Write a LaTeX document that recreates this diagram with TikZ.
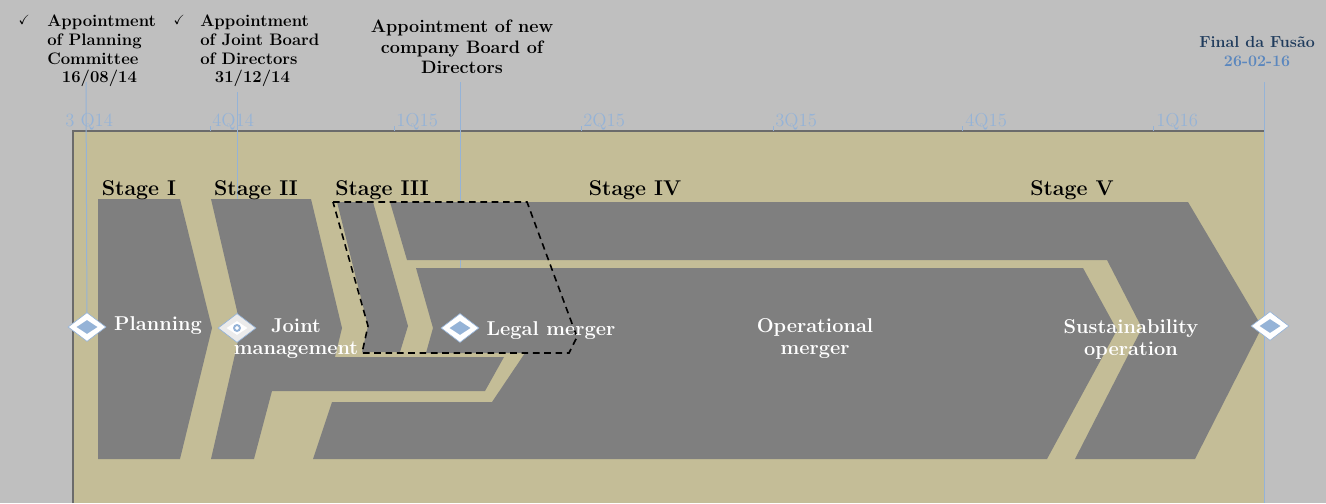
\documentclass[tikz,border=0pt]{standalone}
\usepackage{amssymb}
\usepackage{tikz}
\usetikzlibrary{shapes.geometric,calc,positioning}
\definecolor{canvas}{HTML}{BFBFBF}
\definecolor{panel}{HTML}{C4BD97}
\definecolor{slab}{HTML}{7F7F7F}
\definecolor{axisblue}{HTML}{95B3D7}
\definecolor{navy}{HTML}{1F3B5C}
\definecolor{dateblue}{HTML}{5B87BE}
\definecolor{panelrule}{HTML}{6B6B6B}
\tikzset{
        stagelbl/.style = {inner sep=0pt, anchor=base,
            font=\fontsize{16}{18}\selectfont\bfseries},
        phase/.style = {text=white, align=center, inner sep=0pt,
            font=\fontsize{15}{16.5}\selectfont\bfseries},
        note/.style = {align=left, inner sep=0pt,
            font=\fontsize{12.5}{13.9}\selectfont\bfseries},
        quarter/.style = {text=axisblue, anchor=base west, inner sep=0pt,
            font=\fontsize{14}{15}\selectfont},
        vline/.style = {draw=axisblue, line width=0.75pt},
        mstone/.style = {diamond, draw=axisblue, fill=white, line width=0.5pt,
            minimum width=28.5pt, minimum height=21.75pt, inner sep=0pt},
        mcore/.style = {diamond, fill=axisblue, inner sep=0pt,
            minimum width=15.75pt, minimum height=10.5pt},
        tick/.style = {inner sep=0pt, font=\normalsize},
    }

\begin{document}
\begin{tikzpicture}[x=0.75pt, y=-0.75pt]
    \fill[canvas] (0,0) rectangle (1326,503);
    \useasboundingbox (0,0) rectangle (1326,503);
    \fill[panel] (73,131) rectangle (1264,503);
    \draw[panelrule, line width=1pt] (73,503) -- (73,131) -- (1264,131);

    % quarters
    \foreach \qx/\qt in {65/3 Q14, 212/4Q14, 396/1Q15, 583/2Q15, 775/3Q15, 965/4Q15, 1156/1Q16}
        \node[quarter] (q\qx) at (\qx,126) {\qt};
    \foreach \tx in {210,394,581,773,962,1153}
        \draw[axisblue, line width=0.6pt] (\tx,126) -- (\tx,131);

    % appointments
    \node[note, anchor=north west] (n1) at (47,15)
        {Appointment\\of Planning\\Committee\\\hspace*{11pt}16/08/14};
    \node[note, anchor=north west] (n2) at (200,15)
        {Appointment\\of Joint Board\\of Directors\\\hspace*{11pt}31/12/14};
    \node[tick, anchor=north east] (k1) at ($ (n1.north west) + (-17,0) $) {$\checkmark$};
    \node[tick, anchor=north east] (k2) at ($ (n2.north west) + (-15,0) $) {$\checkmark$};
    \node[note, align=center, font=\fontsize{13.5}{15.4}\selectfont\bfseries] (n3) at (462,47)
        {Appointment of new\\company Board of\\Directors};
    \node[note, align=center, text=navy, font=\fontsize{12}{14.3}\selectfont\bfseries] (n4) at (1257,52)
        {Final da Fusão\\\textcolor{dateblue}{26-02-16}};

    \coordinate (p1) at (86,82);   \coordinate (c1) at (87,327);
    \coordinate (p2) at (237,92);  \coordinate (c2) at (237,328);
    \coordinate (p3) at (460,82);  \coordinate (c3) at (460,328);
    \coordinate (p4) at (1264,82); \coordinate (p5) at (1264,503);
    \coordinate (c4) at (1270,326);
    \draw[vline] (p1) -- (c1);
    \draw[vline] (p2) -- (c2);
    \draw[vline] (p3) -- (c3);
    \draw[vline] (p4) -- (p5);

    % stages
    \fill[slab] (98,199) -- (180,199) -- (212,328) -- (180,459) -- (98,459) -- cycle;
    \fill[slab] (211,199) -- (311,199) -- (342,328) -- (335,357) -- (504,357) -- (485,391)
        -- (272,391) -- (254,459) -- (211,459) -- (241,328) -- cycle;
    \fill[slab] (337,202) -- (373,202) -- (408,326) -- (400,352) -- (362,352) -- (368,326) -- cycle;
    \fill[slab] (390,202) -- (1188,202) -- (1262,327) -- (1195,459) -- (1075,459) -- (1142,328)
        -- (1107,260) -- (407,260) -- cycle;
    \fill[slab] (416,268) -- (1083,268) -- (1117,330) -- (1047,459) -- (313,459) -- (332,402)
        -- (492,402) -- (525,353) -- (426,353) -- (433,328) -- cycle;
    \draw[dash pattern=on 5pt off 3.5pt, line width=1.2pt] (333,202) -- (527,202) -- (577,337)
        -- (569,353) -- (362,353) -- (368,326) -- cycle;

    \node[stagelbl] (st1) at (139,195) {Stage I};
    \node[stagelbl] (st2) at (256,195) {Stage II};
    \node[stagelbl] (st3) at (382,195) {Stage III};
    \node[stagelbl] (st4) at (635,195) {Stage IV};
    \node[stagelbl] (st5) at (1072,195) {Stage V};

    % milestones
    \node[mstone] (m1) at (c1) {};
    \node[mcore] at (m1) {};
    \node[mstone, fill=black!8] (m2) at (c2) {};
    \node[mcore, fill=white] at (m2) {};
    \node[circle, fill=axisblue, minimum size=6pt, inner sep=0pt] at (m2) {};
    \node[diamond, fill=white, minimum size=3.5pt, inner sep=0pt] at (m2) {};
    \node[mstone] (m3) at (c3) {};
    \node[mcore] at (m3) {};
    \node[mstone] (m4) at (c4) {};
    \node[mcore] at (m4) {};

    \node[phase] (ph1) at (158,326) {Planning};
    \node[phase] (ph2) at (296,339) {Joint\\management};
    \node[phase] (ph3) at (551,331) {Legal merger};
    \node[phase] (ph4) at (815,339) {Operational\\merger};
    \node[phase] (ph5) at (1131,339) {Sustainability\\operation};
\end{tikzpicture}
\end{document}
